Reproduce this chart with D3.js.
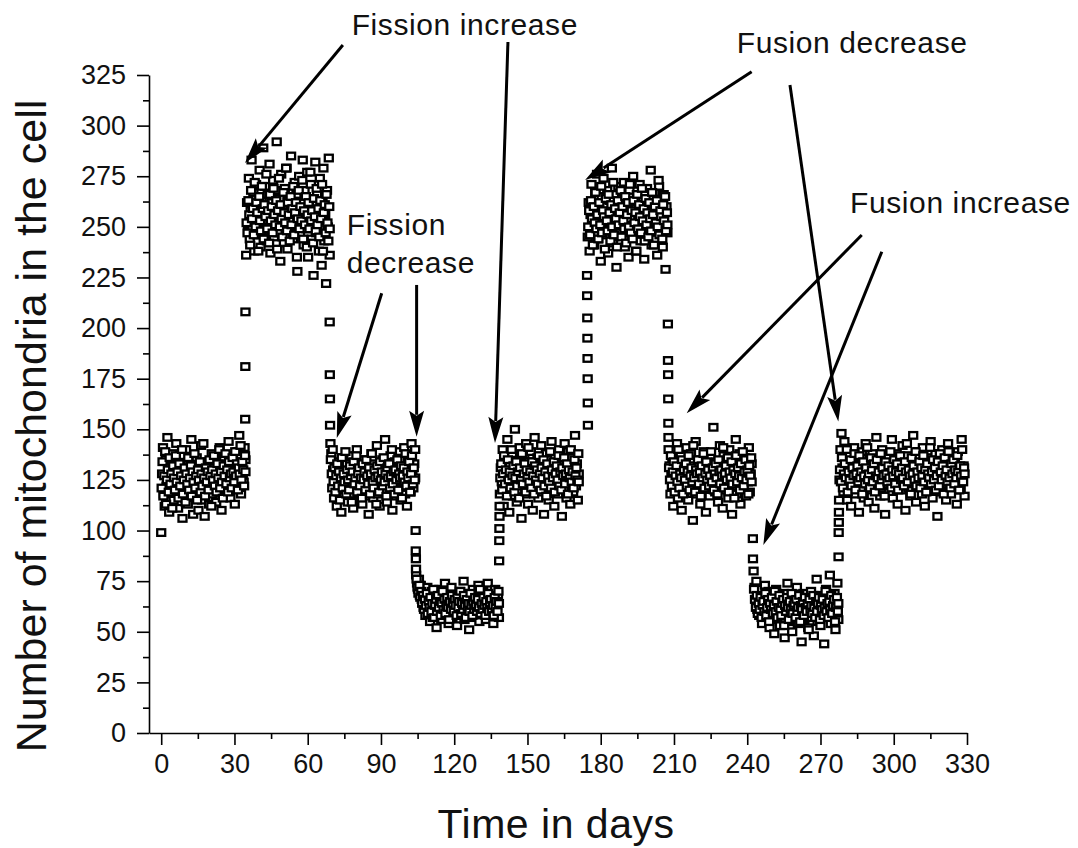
<!DOCTYPE html>
<html><head><meta charset="utf-8">
<script src="https://cdn.jsdelivr.net/npm/d3@7"></script>
<style>
body{margin:0;background:#fff}
text{font-family:"Liberation Sans",Arial,sans-serif;fill:#111}
</style>
</head><body>
<svg id="chart" width="1078" height="848"></svg>
<script>
// ---------- DATA ----------
const xTicks = [0,30,60,90,120,150,180,210,240,270,300,330];
const yTicks = [0,25,50,75,100,125,150,175,200,225,250,275,300,325];

// plateau spans (days)
const plateauStart = [0, 34.8, 69.3, 104.4, 138.7, 174.7, 207.8, 242.6, 277.8];
const plateauEnd   = [34.5, 69.0, 104.0, 138.3, 171.0, 207.3, 241.8, 277.3, 329.0];

// two samplings per plateau (a / b)
const baseline1 = [99,128,141,118,112,135,122,146,131,109,126,119,138,124,115,133,121,143,127,111,
 130,118,124,137,106,129,121,116,140,125,113,134,122,128,145,117,108,131,123,119,
 136,126,110,128,120,142,115,132,124,107,127,119,134,122,113,129,125,138,118,121,
 131,126,114,135,128,119,141,123,110,130,127,136,117,125,133,120,144,129,116,131,
 126,137,122,113,134,128,139,121,147,130,118,132,127,124,141,135];
const baseline1b = [121,134,117,127,139,113,125,130,119,136,123,128,111,132,126,120,137,124,129,116,
 133,122,127,140,118,125,131,114,128,123,136,120,126,132,117,129,124,138,121,127,
 115,130,125,134,119,128,122,143,126,117,131,124,129,120,135,127,112,130,125,137,
 122,128,119,133,126,140,121,129,124,116,132,127,138,123,130,119,134,126,128,121,
 136,129,124,139,127,133,120,131,128,142,125,134,130,122,137,129];
const fissionHigh = [236,262,251,274,244,258,283,249,267,238,255,271,246,261,252,278,240,264,256,289,
 248,270,259,243,266,253,281,237,262,250,273,245,258,268,292,247,255,264,233,276,
 251,260,242,269,257,279,239,263,254,248,285,261,244,257,272,250,266,228,259,275,
 246,262,253,283,241,268,256,249,277,235,260,252,271,244,264,226,258,282,247,266,
 253,238,274,259,231,262,279,243,256,222,268,250,284,236];
const fissionHighB = [252,247,263,256,241,268,254,259,246,272,250,262,257,238,265,253,248,270,259,244,
 261,255,276,249,258,242,266,253,260,247,269,256,251,263,239,258,274,250,261,254,
 245,267,257,252,279,248,262,256,243,265,251,259,270,246,257,262,235,254,268,249,
 260,253,273,244,258,251,265,240,256,262,249,277,253,258,242,264,255,248,269,251,
 259,245,263,254,271,238,257,261,247,266,252,243,260,249];
const baseline2 = [143,138,121,130,116,127,134,112,124,119,131,122,109,128,136,117,125,120,133,114,
 126,129,118,137,123,111,132,121,127,140,115,124,130,119,126,113,135,122,128,117,
 131,124,108,129,121,138,126,116,133,120,125,142,118,127,112,130,123,135,119,128,
 145,124,114,131,126,120,137,122,110,129,125,134,117,127,121,139,130,115,126,132,
 123,141,118,128,112,135,124,130,119,143,127,121,133,126];
const baseline2b = [135,128,140,124,131,119,127,133,122,129,115,126,136,121,128,124,139,118,130,125,
 120,132,127,114,129,134,123,126,137,119,128,131,122,126,116,133,125,129,120,135,
 127,123,131,118,128,138,124,121,130,126,113,132,127,119,134,125,129,122,136,124,
 128,117,131,126,133,121,127,140,123,129,118,130,125,135,120,128,126,132,116,127,
 131,124,138,122,129,126,134,119,128,137,123,131,125,140];
const fissionLow = [78,74,71,76,68,73,66,70,62,69,58,65,72,60,67,55,63,70,57,66,
 61,68,52,64,59,71,63,56,67,60,65,74,58,62,69,54,66,61,72,57,
 64,68,59,63,53,67,61,70,58,65,62,75,56,66,60,69,63,51,67,64,
 58,71,62,65,57,68,60,73,55,64,66,59,70,61,63,56,67,74,60,65,
 58,69,62,54,66,71,59,63,68,57];
const fissionLowB = [76,72,69,73,67,70,64,68,61,66,63,69,59,65,62,67,60,64,71,57,
 63,66,60,68,62,65,58,64,70,61,66,59,63,67,62,56,65,61,68,64,
 60,66,63,58,67,62,65,70,59,64,61,68,63,57,66,62,64,60,69,63,
 58,65,61,67,63,60,66,62,71,59,64,61,67,63,58,65,62,69,60,64,
 66,61,63,58,67,62,65,60,70,64];
const baseline3 = [118,131,124,140,112,128,135,121,145,126,109,133,122,138,117,129,150,124,114,132,
 127,141,120,106,130,125,137,118,143,128,113,134,123,139,126,110,131,146,121,127,
 136,116,129,124,142,119,133,108,127,138,122,130,115,135,125,144,120,128,112,137,
 126,131,118,140,123,129,107,134,121,143,127,116,132,139,124,113,130,136,119,126,
 147,122,133,115,128];
const baseline3b = [126,133,120,128,137,123,130,117,135,125,129,121,140,127,132,119,126,134,122,129,
 116,131,125,138,123,128,133,119,130,126,141,124,129,121,134,127,118,132,125,130,
 123,137,128,120,131,126,135,122,129,117,133,127,124,139,121,130,126,134,119,128,
 132,125,137,122,129,120,131,127,136,123,128,133,118,130,126,140,124,129,121,135,
 127,131,125,138,124];
const fusionLow = [245,262,238,256,271,249,259,241,267,253,276,244,261,250,233,265,257,274,246,260,
 252,268,237,255,263,248,279,242,258,251,266,230,259,270,247,256,243,264,253,272,
 240,261,249,257,235,268,254,262,245,275,251,259,238,266,248,256,271,243,260,252,
 264,234,257,249,269,246,262,255,278,241,258,250,267,244,261,236,254,270,248,263,
 253,240,266,257,229,260,247];
const fusionLowB = [250,258,246,263,254,241,260,252,267,249,256,244,262,251,270,247,258,255,239,264,
 253,248,266,257,243,261,250,272,246,259,254,240,263,251,257,268,245,260,253,249,
 265,242,256,262,250,271,247,258,244,263,252,257,238,266,249,261,255,247,269,253,
 259,243,264,251,257,245,262,254,248,267,256,241,260,252,263,250,273,246,258,255,
 244,261,253,265,248,257,251];
const baseline4 = [140,132,118,127,136,112,125,131,121,143,116,129,124,137,110,128,133,119,126,141,
 122,115,130,127,138,120,105,132,125,144,118,129,123,135,113,127,131,121,139,126,
 109,133,124,128,117,136,122,130,151,125,119,134,127,114,131,142,123,128,111,137,
 126,120,133,129,116,140,124,131,108,127,135,122,145,118,130,125,138,113,129,134,
 121,127,136,117,132,124,141,119,128,133];
const baseline4b = [131,125,137,122,129,134,119,127,132,124,140,121,128,126,135,118,130,125,133,122,
 129,137,120,127,131,124,142,126,119,130,128,135,123,129,117,132,126,138,121,128,
 134,125,130,122,127,139,124,131,120,128,133,126,118,135,129,123,130,127,141,121,
 128,132,125,136,119,129,126,134,123,130,116,128,137,124,131,127,120,133,126,139,
 122,129,135,125,130,118,132,127,136,124];
const fusionHigh = [80,72,66,75,61,69,58,71,64,54,67,62,73,57,65,60,70,52,63,68,
 59,66,49,64,71,56,62,67,53,60,65,58,69,47,63,61,74,55,66,59,
 62,50,68,57,64,60,72,54,63,58,66,45,61,69,56,64,59,67,52,62,
 57,70,60,65,48,63,58,76,55,66,61,53,68,59,64,44,62,71,57,65,
 60,78,54,66,63,58,69,51,64,74,56];
const fusionHighB = [71,66,62,68,59,64,61,67,57,63,65,60,69,58,62,66,55,64,61,67,
 59,63,70,60,65,57,62,68,61,58,64,66,53,63,60,67,62,56,65,61,
 69,59,63,64,57,66,60,62,68,55,63,61,65,58,67,62,60,64,51,66,
 61,63,59,68,62,57,65,60,64,67,56,63,61,66,58,62,70,60,64,57,
 65,61,68,59,63,66,55,62,67,60,64];
const baseline5 = [125,140,148,131,119,144,127,134,115,137,122,129,112,133,126,141,118,130,124,136,
 109,128,121,139,126,116,132,143,123,129,114,135,127,120,138,125,111,131,146,122,
 128,134,117,126,140,121,130,108,127,136,123,119,133,129,145,116,125,131,122,138,
 113,128,135,124,120,142,127,132,110,126,137,121,129,117,134,125,147,123,130,114,
 128,139,122,126,133,118,141,127,112,131,124,136,120,129,144,125,116,132,128,138,
 121,107,130,126,135,119,140,127,123,133,115,129,143,124,131,118,137,126,122,134,
 128,113,139,125,130,120,145,127,132,117];
const baseline5b = [130,124,136,121,128,133,126,140,119,129,125,135,122,131,127,138,120,128,132,124,
 137,126,129,118,134,127,123,131,141,125,128,121,136,130,124,133,119,127,135,126,
 129,122,138,125,131,127,117,134,128,124,132,126,139,121,130,127,135,123,129,133,
 120,128,137,125,131,126,122,134,129,143,124,130,127,118,136,128,132,125,139,122,
 129,126,134,121,131,127,137,124,130,119,133,128,126,141,123,129,135,125,131,120,
 127,134,122,138,129,125,132,118,136,127,130,124,139,126,121,133,128,135,123,130,
 126,137,129,120,132,127,140,124,131,128];
const plateaus = [
  [baseline1, baseline1b], [fissionHigh, fissionHighB], [baseline2, baseline2b],
  [fissionLow, fissionLowB], [baseline3, baseline3b], [fusionLow, fusionLowB],
  [baseline4, baseline4b], [fusionHigh, fusionHighB], [baseline5, baseline5b]
];

// transitions: day and the values recorded while switching
const transDays = [34.4, 69.0, 104.2, 138.4, 174.4, 207.5, 242.3, 277.4];
const trans1 = [155,181,208];
const trans2 = [203,177,165,152];
const trans3 = [100,90,86,81];
const trans4 = [85,95,101,107,112];
const trans5 = [226,216,205,195,185,175,163,152];
const trans6 = [202,184,177,165,153,146];
const trans7 = [96,86];
const trans8 = [87,99,104,109,115];
const transitions = [trans1,trans2,trans3,trans4,trans5,trans6,trans7,trans8];

// annotations (data units): label lines, and arrows [fromDay, fromVal, toDay, toVal]
const noteText  = [["Fission increase"],["Fission","decrease"],["Fusion decrease"],["Fusion increase"]];
const noteDay   = [78.0, 76.0, 235.7, 282.1];
const noteVal   = [344.8, 246.0, 335.7, 256.7];
const arrows = [
  [74.4,339.8, 34.3,281.5],
  [142.0,341.3, 136.7,143.2],
  [90.3,217.2, 71.9,145.7],
  [104.6,221.3, 104.6,146.3],
  [241.8,326.6, 173.6,273.1],
  [257.5,320.1, 277.3,153.8],
  [286.9,246.0, 215.2,157.9],
  [295.1,237.7, 246.6,92.9]
];

// ---------- BUILD POINTS ----------
const points = [];
plateaus.forEach((sets,k)=>{
  const s = plateauStart[k], e = plateauEnd[k];
  sets.forEach((vals,j)=>{
    const n = vals.length, step = (e-s)/(n-1);
    vals.forEach((v,i)=>{
      const d = Math.min(e, s + step*i + (j ? step*0.5 : 0));
      points.push({day: d, val: v});
    });
  });
});
transitions.forEach((vals,k)=>{
  vals.forEach((v,i)=>points.push({day: transDays[k] + i*0.05, val: v}));
});

// ---------- CHART ----------
const svg = d3.select("#chart");
const x = d3.scaleLinear().domain([-5,330]).range([149,967]);
const y = d3.scaleLinear().domain([0,325]).range([733,75]);

const tickFont = "27px";

// minor ticks
svg.append("g").attr("transform","translate(0,733)")
  .call(d3.axisBottom(x).tickValues(d3.range(15,330,30)).tickSize(6).tickFormat(""))
  .call(g=>g.select(".domain").remove());
svg.append("g").attr("transform","translate(149,0)")
  .call(d3.axisLeft(y).tickValues(d3.range(12.5,325,25)).tickSize(6).tickFormat(""))
  .call(g=>g.select(".domain").remove());

const gx = svg.append("g").attr("transform","translate(0,733)")
  .call(d3.axisBottom(x).tickValues(xTicks).tickSize(12).tickSizeOuter(0).tickPadding(9));
const gy = svg.append("g").attr("transform","translate(149,0)")
  .call(d3.axisLeft(y).tickValues(yTicks).tickSize(12).tickSizeOuter(0).tickPadding(11));

[gx,gy].forEach(g=>{
  g.selectAll("text").style("font-size",tickFont).style("font-family",'"Liberation Sans",Arial,sans-serif').attr("fill","#111");
});
svg.selectAll(".tick line, .domain").attr("stroke","#000").attr("stroke-width",1.6);

// points
const W = 8, H = 6.6;
svg.append("g").selectAll("rect").data(points).join("rect")
  .attr("x", d=>x(d.day)-W/2).attr("y", d=>y(d.val)-H/2)
  .attr("width",W).attr("height",H)
  .attr("fill","#fff").attr("stroke","#000").attr("stroke-width",2.3);

// arrows
const ag = svg.append("g");
arrows.forEach(a=>{
  const x0=x(a[0]), y0=y(a[1]), x1=x(a[2]), y1=y(a[3]);
  const ang = Math.atan2(y1-y0, x1-x0);
  const L = 26, Wd = 7.5;
  const bx = x1 - L*Math.cos(ang), by = y1 - L*Math.sin(ang);
  ag.append("line").attr("x1",x0).attr("y1",y0).attr("x2",bx+4*Math.cos(ang)).attr("y2",by+4*Math.sin(ang))
    .attr("stroke","#000").attr("stroke-width",3);
  const px = -Math.sin(ang), py = Math.cos(ang);
  ag.append("polygon")
    .attr("points",[[x1,y1],[bx+Wd*px,by+Wd*py],[bx+5*Math.cos(ang),by+5*Math.sin(ang)],[bx-Wd*px,by-Wd*py]].map(p=>p.join(",")).join(" "))
    .attr("fill","#000");
});

// notes
noteText.forEach((lines,k)=>{
  lines.forEach((ln,i)=>{
    svg.append("text").attr("x",x(noteDay[k])).attr("y",y(noteVal[k])+38*i)
      .style("font-size","30px").style("letter-spacing","0.6px").text(ln);
  });
});

// axis titles
svg.append("text").attr("x",556).attr("y",838).attr("text-anchor","middle")
  .style("font-size","41px").style("letter-spacing","0.5px").text("Time in days");
svg.append("text").attr("transform","translate(46,426) rotate(-90)").attr("text-anchor","middle")
  .style("font-size","43px").text("Number of mitochondria in the cell");
</script>
</body></html>
